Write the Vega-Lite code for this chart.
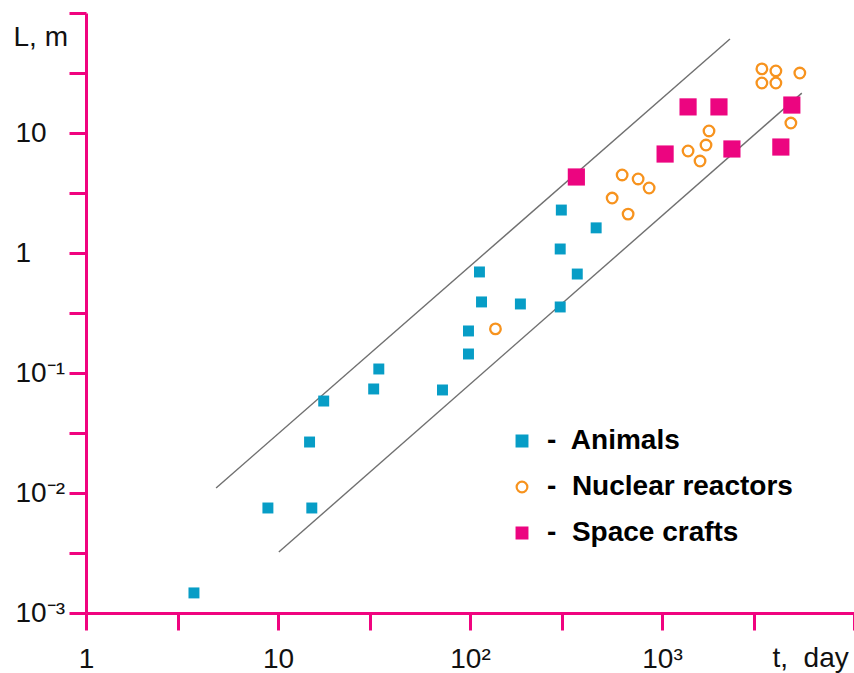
{
  "$schema": "https://vega.github.io/schema/vega-lite/v6.json",
  "autosize": {"type": "none"},
  "padding": {"left": 86, "top": 13, "right": 0, "bottom": 60},
  "width": 768,
  "height": 600,
  "background": "white",
  "config": {
    "view": {"stroke": null},
    "font": "Liberation Sans",
    "legend": {
      "orient": "none", "legendX": 422, "legendY": 414,
      "title": null, "padding": 0,
      "labelFont": "Liberation Sans", "labelFontSize": 28, "labelFontWeight": "bold", "labelColor": "#000000",
      "labelLimit": 0, "labelOffset": 11, "rowPadding": 18,
      "symbolSize": 115, "symbolStrokeWidth": 2.2
    }
  },
  "layer": [
    {
      "data": {"values": [
        {"line": "upper", "t": 4.76, "L": 0.011},
        {"line": "upper", "t": 2259, "L": 60.7},
        {"line": "lower", "t": 10.1, "L": 0.00322},
        {"line": "lower", "t": 5347, "L": 21.5}
      ]},
      "mark": {"type": "line", "color": "#707070", "strokeWidth": 1.4},
      "encoding": {
        "x": {"field": "t", "type": "quantitative", "scale": {"type": "log", "domain": [1, 10000]}},
        "y": {"field": "L", "type": "quantitative", "scale": {"type": "log", "domain": [0.001, 100]}},
        "detail": {"field": "line"}
      }
    },
    {
      "data": {"values": [
        {"group": "Animals", "t": 3.65, "L": 0.00147},
        {"group": "Animals", "t": 8.86, "L": 0.0075},
        {"group": "Animals", "t": 15.0, "L": 0.0075},
        {"group": "Animals", "t": 14.6, "L": 0.0266},
        {"group": "Animals", "t": 17.3, "L": 0.0584},
        {"group": "Animals", "t": 31.5, "L": 0.0736},
        {"group": "Animals", "t": 33.5, "L": 0.108},
        {"group": "Animals", "t": 71.9, "L": 0.0722},
        {"group": "Animals", "t": 98.2, "L": 0.144},
        {"group": "Animals", "t": 98.2, "L": 0.224},
        {"group": "Animals", "t": 114.8, "L": 0.391},
        {"group": "Animals", "t": 112, "L": 0.695},
        {"group": "Animals", "t": 183, "L": 0.376},
        {"group": "Animals", "t": 295, "L": 0.355},
        {"group": "Animals", "t": 295, "L": 1.08},
        {"group": "Animals", "t": 299, "L": 2.28},
        {"group": "Animals", "t": 362, "L": 0.668},
        {"group": "Animals", "t": 454, "L": 1.62},
        {"group": "Nuclear reactors", "t": 135.7, "L": 0.233},
        {"group": "Nuclear reactors", "t": 620, "L": 4.47},
        {"group": "Nuclear reactors", "t": 751, "L": 4.14},
        {"group": "Nuclear reactors", "t": 857, "L": 3.48},
        {"group": "Nuclear reactors", "t": 550, "L": 2.87},
        {"group": "Nuclear reactors", "t": 666, "L": 2.11},
        {"group": "Nuclear reactors", "t": 1367, "L": 7.08},
        {"group": "Nuclear reactors", "t": 1578, "L": 5.84},
        {"group": "Nuclear reactors", "t": 1695, "L": 7.94},
        {"group": "Nuclear reactors", "t": 1757, "L": 10.4},
        {"group": "Nuclear reactors", "t": 3313, "L": 34.2},
        {"group": "Nuclear reactors", "t": 3918, "L": 32.9},
        {"group": "Nuclear reactors", "t": 3313, "L": 26.1},
        {"group": "Nuclear reactors", "t": 3918, "L": 26.1},
        {"group": "Nuclear reactors", "t": 5222, "L": 31.6},
        {"group": "Nuclear reactors", "t": 4690, "L": 12.1},
        {"group": "Space crafts", "t": 358, "L": 4.30},
        {"group": "Space crafts", "t": 1038, "L": 6.68},
        {"group": "Space crafts", "t": 1367, "L": 16.5},
        {"group": "Space crafts", "t": 1980, "L": 16.5},
        {"group": "Space crafts", "t": 2313, "L": 7.36},
        {"group": "Space crafts", "t": 4745, "L": 17.1},
        {"group": "Space crafts", "t": 4159, "L": 7.64}
      ]},
      "mark": {"type": "point", "opacity": 1},
      "encoding": {
        "x": {
          "field": "t", "type": "quantitative",
          "scale": {"type": "log", "domain": [1, 10000]},
          "axis": {
            "values": [1, 3, 10, 30, 100, 300, 1000, 3000, 10000],
            "labelExpr": "datum.value == 1 ? '1' : datum.value == 10 ? '10' : datum.value == 100 ? '10²' : datum.value == 1000 ? '10³' : ''",
            "grid": false,
            "domainColor": "#f0047f", "domainWidth": 3,
            "tickColor": "#f0047f", "tickWidth": 3, "tickSize": 17,
            "labelFont": "Liberation Sans", "labelFontSize": 28, "labelColor": "#111111",
            "labelPadding": 15, "labelFlush": false, "labelOverlap": false,
            "title": "t,\u00a0 day",
            "titleFont": "Liberation Sans", "titleFontSize": 28, "titleFontWeight": "normal", "titleColor": "#111111",
            "titleAlign": "left", "titleBaseline": "alphabetic", "titleAnchor": "start",
            "titleX": 686, "titleY": 53
          }
        },
        "y": {
          "field": "L", "type": "quantitative",
          "scale": {"type": "log", "domain": [0.001, 100]},
          "axis": {
            "values": [0.001, 0.00316228, 0.01, 0.0316228, 0.1, 0.316228, 1, 3.16228, 10, 31.6228, 100],
            "labelExpr": "datum.value == 1 ? '1' : datum.value == 10 ? '10' : datum.value == 0.1 ? '10⁻¹' : datum.value == 0.01 ? '10⁻²' : datum.value == 0.001 ? '10⁻³' : ''",
            "grid": false,
            "domainColor": "#f0047f", "domainWidth": 3,
            "tickColor": "#f0047f", "tickWidth": 3, "tickSize": 17,
            "labelFont": "Liberation Sans", "labelFontSize": 28, "labelColor": "#111111",
            "labelAlign": "left", "labelBaseline": "middle",
            "labelPadding": 54, "labelFlush": false, "labelOverlap": false,
            "title": "L, m",
            "titleFont": "Liberation Sans", "titleFontSize": 28, "titleFontWeight": "normal", "titleColor": "#111111",
            "titleAngle": 0, "titleAlign": "left", "titleBaseline": "alphabetic",
            "titleX": -73, "titleY": 32
          }
        },
        "fill": {
          "field": "group", "type": "nominal",
          "scale": {"domain": ["Animals", "Nuclear reactors", "Space crafts"], "range": ["#079dc6", "transparent", "#ec0580"]},
          "legend": {"labelExpr": "'-\u00a0 ' + datum.label"}
        },
        "stroke": {
          "field": "group", "type": "nominal",
          "scale": {"domain": ["Animals", "Nuclear reactors", "Space crafts"], "range": ["#079dc6", "#f7931e", "#ec0580"]},
          "legend": {"labelExpr": "'-\u00a0 ' + datum.label"}
        },
        "shape": {
          "field": "group", "type": "nominal",
          "scale": {"domain": ["Animals", "Nuclear reactors", "Space crafts"], "range": ["square", "circle", "square"]},
          "legend": {"labelExpr": "'-\u00a0 ' + datum.label"}
        },
        "size": {
          "condition": [
            {"test": "datum.group === 'Space crafts'", "value": 295},
            {"test": "datum.group === 'Nuclear reactors'", "value": 112}
          ],
          "value": 120
        },
        "strokeWidth": {
          "condition": {"test": "datum.group === 'Nuclear reactors'", "value": 2.3},
          "value": 0
        }
      }
    }
  ]
}
